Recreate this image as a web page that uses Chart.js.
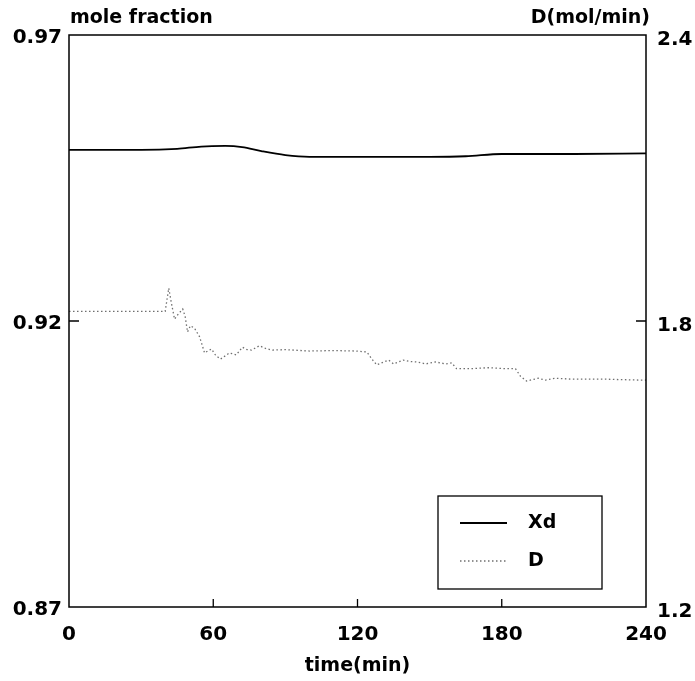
<!DOCTYPE html>
<html>
<head>
<meta charset="utf-8">
<script src="https://cdn.jsdelivr.net/npm/chart.js@4/dist/chart.umd.min.js"></script>
<style>
  html, body { margin: 0; padding: 0; background: #fff; }
  #wrap { width: 695px; height: 681px; position: relative; }
</style>
</head>
<body>
<div id="wrap"><canvas id="chart"></canvas></div>
<script>
// ── Data ──────────────────────────────────────────────────────
const xdTime  = [0, 30, 45, 55, 65, 72, 80, 90, 100, 120, 150, 165, 180, 210, 240];
const xdValue = [0.9499, 0.9499, 0.9501, 0.9505, 0.9506, 0.9504, 0.9497, 0.9490, 0.9487,
                 0.9487, 0.9487, 0.9488, 0.9492, 0.9492, 0.9493];

const dTime  = [0, 40, 41.5, 42.5, 43.9, 45.5, 47.3, 48.3, 49.3, 50.5, 52.2, 54.3, 56.4, 58,
                59.3, 61, 63, 65, 66.7, 69.6, 72.1, 74, 75.9, 79.2, 82, 84.6, 90, 100, 110,
                119.4, 123.9, 126, 128, 130, 133, 135, 139, 142, 144.7, 148.4, 152.5, 156.7,
                159.2, 161.2, 167.5, 174.5, 181.6, 185.7, 187.8, 190.3, 195.2, 198.1, 202.3,
                209, 216, 223, 230, 237.9, 240];
const dValue = [1.820, 1.820, 1.869, 1.840, 1.804, 1.815, 1.825, 1.810, 1.777, 1.790, 1.785,
                1.767, 1.733, 1.738, 1.741, 1.728, 1.720, 1.727, 1.733, 1.729, 1.745, 1.740,
                1.739, 1.748, 1.742, 1.739, 1.740, 1.737, 1.738, 1.737, 1.735, 1.720, 1.708,
                1.712, 1.718, 1.710, 1.718, 1.715, 1.714, 1.710, 1.714, 1.710, 1.712, 1.700,
                1.700, 1.702, 1.700, 1.700, 1.684, 1.674, 1.680, 1.676, 1.680, 1.678, 1.678,
                1.678, 1.677, 1.676, 1.676];

const xTicks     = [0, 60, 120, 180, 240];
const leftTicks  = [0.87, 0.92, 0.97];
const rightTicks = [1.2, 1.8, 2.4];

const FONT = 'DejaVu Sans';
const INK  = '#000';

// ── Frame, inward ticks, corner titles, legend ────────────────
const framePlugin = {
    id: 'frame',
    afterDraw(chart) {
        const { ctx, chartArea: a, scales } = chart;
        ctx.save();
        ctx.strokeStyle = INK;
        ctx.lineWidth = 1.5;
        ctx.strokeRect(a.left, a.top, a.right - a.left, a.bottom - a.top);

        ctx.lineWidth = 1.3;
        ctx.beginPath();
        scales.x.ticks.forEach(t => {
            const px = scales.x.getPixelForValue(t.value);
            if (px <= a.left + 1 || px >= a.right - 1) return;
            ctx.moveTo(px, a.bottom); ctx.lineTo(px, a.bottom - 8);
        });
        scales.y.ticks.forEach(t => {
            const py = scales.y.getPixelForValue(t.value);
            if (py <= a.top + 1 || py >= a.bottom - 1) return;
            ctx.moveTo(a.left, py); ctx.lineTo(a.left + 10, py);
        });
        scales.y1.ticks.forEach(t => {
            const py = scales.y1.getPixelForValue(t.value);
            if (py <= a.top + 1 || py >= a.bottom - 1) return;
            ctx.moveTo(a.right, py); ctx.lineTo(a.right - 10, py);
        });
        ctx.stroke();

        // titles above the frame
        ctx.fillStyle = INK;
        ctx.font = `bold 19px "${FONT}"`;
        ctx.textBaseline = 'middle';
        ctx.textAlign = 'left';
        ctx.fillText('mole fraction', a.left + 1, a.top - 17);
        ctx.textAlign = 'right';
        ctx.fillText('D(mol/min)', a.right + 4, a.top - 17);

        // legend box
        const bx = a.right - 208, by = a.bottom - 111, bw = 164, bh = 93;
        ctx.lineWidth = 1.3;
        ctx.strokeRect(bx, by, bw, bh);
        chart.data.datasets.forEach((ds, i) => {
            const y = by + 27 + i * 38;
            ctx.save();
            ctx.strokeStyle = ds.borderColor;
            ctx.lineWidth = ds.borderWidth;
            ctx.setLineDash(ds.borderDash || []);
            ctx.beginPath();
            ctx.moveTo(bx + 22, y); ctx.lineTo(bx + 69, y);
            ctx.stroke();
            ctx.restore();
            ctx.fillStyle = INK;
            ctx.textAlign = 'left';
            ctx.font = `bold 19px "${FONT}"`;
            ctx.fillText(ds.label, bx + 90, y);
        });
        ctx.restore();
    }
};

const tickFont = { family: FONT, size: 20, weight: 'bold' };

new Chart(document.getElementById('chart'), {
    type: 'line',
    data: {
        datasets: [
            {
                label: 'Xd',
                data: xdTime.map((t, i) => ({ x: t, y: xdValue[i] })),
                yAxisID: 'y',
                borderColor: '#000',
                borderWidth: 1.8,
                pointRadius: 0,
                tension: 0.4,
                cubicInterpolationMode: 'monotone',
                fill: false,
            },
            {
                label: 'D',
                data: dTime.map((t, i) => ({ x: t, y: dValue[i] })),
                yAxisID: 'y1',
                borderColor: '#6f6f6f',
                borderWidth: 1.3,
                borderDash: [1.5, 2.5],
                pointRadius: 0,
                tension: 0,
                fill: false,
            }
        ]
    },
    options: {
        responsive: true,
        maintainAspectRatio: false,
        animation: false,
        layout: { padding: { top: 35, left: 0, right: 0, bottom: 0 } },
        plugins: { legend: { display: false }, tooltip: { enabled: false } },
        scales: {
            x: {
                type: 'linear',
                min: 0, max: 240,
                afterBuildTicks: s => { s.ticks = xTicks.map(v => ({ value: v })); },
                afterFit: s => { s.height = 74; },
                grid: { display: false, drawTicks: false },
                border: { display: false },
                ticks: { font: tickFont, color: INK, padding: 16, maxRotation: 0 },
                title: {
                    display: true, text: 'time(min)', color: INK,
                    font: { family: FONT, size: 19, weight: 'bold' },
                    padding: { top: 0, bottom: 4 }
                }
            },
            y: {
                position: 'left',
                min: 0.87, max: 0.97,
                afterBuildTicks: s => { s.ticks = leftTicks.map(v => ({ value: v })); },
                afterFit: s => { s.width = 69; },
                grid: { display: false, drawTicks: false },
                border: { display: false },
                ticks: { font: tickFont, color: INK, padding: 7, labelOffset: 3,
                         callback: v => v.toFixed(2) }
            },
            y1: {
                position: 'right',
                min: 1.2, max: 2.4,
                afterBuildTicks: s => { s.ticks = rightTicks.map(v => ({ value: v })); },
                afterFit: s => { s.width = 49; },
                grid: { display: false, drawTicks: false },
                border: { display: false },
                ticks: { font: tickFont, color: INK, padding: 11, labelOffset: 5,
                         callback: v => v.toFixed(1) }
            }
        }
    },
    plugins: [framePlugin]
});
</script>
</body>
</html>
